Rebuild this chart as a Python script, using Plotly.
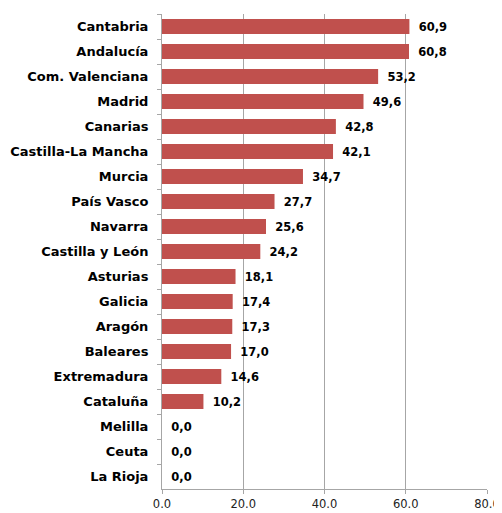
import plotly.graph_objects as go

regions = ["Cantabria", "Andalucía", "Com. Valenciana", "Madrid", "Canarias",
           "Castilla-La Mancha", "Murcia", "País Vasco", "Navarra", "Castilla y León",
           "Asturias", "Galicia", "Aragón", "Baleares", "Extremadura", "Cataluña",
           "Melilla", "Ceuta", "La Rioja"]
values = [60.9, 60.8, 53.2, 49.6, 42.8, 42.1, 34.7, 27.7, 25.6, 24.2,
          18.1, 17.4, 17.3, 17.0, 14.6, 10.2, 0.0, 0.0, 0.0]
x_ticks = [0, 20, 40, 60, 80]

labels = [" \u2009" + f"{v:.1f}".replace(".", ",") for v in values]

fig = go.Figure(go.Bar(
    x=values, y=regions, orientation="h",
    marker=dict(color="#C0504D", line=dict(width=0)),
    text=labels, textposition="outside", cliponaxis=False,
    textfont=dict(family="DejaVu Sans", size=11.5, color="#000000", weight="bold"),
    width=0.6,
))

# page body has an 8px default margin; figure sized to fit the 502x513 window
fig.update_layout(
    width=494, height=505,
    margin=dict(l=154, r=15, t=6, b=24, autoexpand=False),
    plot_bgcolor="white", paper_bgcolor="white",
    showlegend=False,
    font=dict(family="DejaVu Sans", color="#000000"),
)
fig.update_xaxes(
    range=[0, 80], tickvals=x_ticks, tickformat=".1f",
    showgrid=True, gridcolor="#A6A6A6", gridwidth=1,
    showline=True, linecolor="#A6A6A6", linewidth=1,
    ticks="outside", ticklen=4, tickcolor="#A6A6A6",
    tickfont=dict(family="DejaVu Sans", size=11.5, color="#222222"),
    zeroline=False, automargin=False,
)
fig.update_yaxes(
    autorange="reversed", categoryorder="array", categoryarray=regions,
    showline=True, linecolor="#A6A6A6", linewidth=1,
    ticks="outside", ticklen=4, tickcolor="#A6A6A6", tickson="boundaries",
    tickfont=dict(family="DejaVu Sans", size=13, color="#000000", weight="bold"),
    ticklabelstandoff=10, automargin=False,
)

fig.write_html("out.html")
